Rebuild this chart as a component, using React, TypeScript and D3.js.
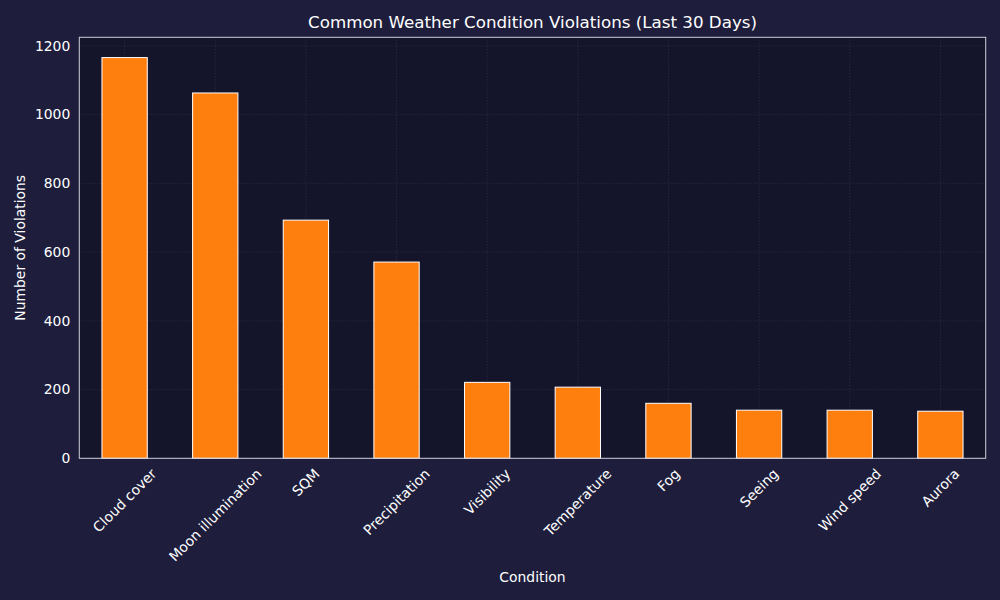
import React, { useRef, useLayoutEffect } from 'react';
import * as d3 from 'd3';

const conditions = [
  'Cloud cover',
  'Moon illumination',
  'SQM',
  'Precipitation',
  'Visibility',
  'Temperature',
  'Fog',
  'Seeing',
  'Wind speed',
  'Aurora',
];
const violations = [1166, 1063, 693, 571, 221, 207, 160, 140, 140, 137];
const yTicks = [0, 200, 400, 600, 800, 1000, 1200];

const W = 1000;
const H = 600;
const margin = { top: 37.3, right: 14.3, bottom: 141.7, left: 79.3 };

const App: React.FC = () => {
  const ref = useRef<SVGSVGElement>(null);

  useLayoutEffect(() => {
    document.body.style.margin = '0';
    const svg = d3.select(ref.current);
    svg.selectAll('*').remove();

    const iw = W - margin.left - margin.right;
    const ih = H - margin.top - margin.bottom;

    const x = d3
      .scaleBand()
      .domain(conditions)
      .range([0, iw])
      .paddingInner(0.5)
      .paddingOuter(0.25);
    const y = d3.scaleLinear().domain([0, 1225]).range([ih, 0]);

    svg.append('rect').attr('width', W).attr('height', H).attr('fill', '#1e1e3c');

    const g = svg
      .append('g')
      .attr('transform', `translate(${margin.left},${margin.top})`);

    g.append('rect').attr('width', iw).attr('height', ih).attr('fill', '#14152b');

    // grid lines
    g.selectAll('.hgrid')
      .data(yTicks)
      .enter()
      .append('line')
      .attr('x1', 0)
      .attr('x2', iw)
      .attr('y1', (d) => y(d))
      .attr('y2', (d) => y(d))
      .attr('stroke', '#44445e')
      .attr('stroke-width', 0.8)
      .attr('stroke-dasharray', '1,2')
      .attr('opacity', 0.7);

    g.selectAll('.vgrid')
      .data(conditions)
      .enter()
      .append('line')
      .attr('x1', (d) => x(d)! + x.bandwidth() / 2)
      .attr('x2', (d) => x(d)! + x.bandwidth() / 2)
      .attr('y1', 0)
      .attr('y2', ih)
      .attr('stroke', '#44445e')
      .attr('stroke-width', 0.8)
      .attr('stroke-dasharray', '1,2')
      .attr('opacity', 0.7);

    // bars
    g.selectAll('.bar')
      .data(conditions)
      .enter()
      .append('rect')
      .attr('x', (d) => x(d)!)
      .attr('y', (_, i) => y(violations[i]))
      .attr('width', x.bandwidth())
      .attr('height', (_, i) => ih - y(violations[i]))
      .attr('fill', '#ff7f0e')
      .attr('stroke', '#ffffff')
      .attr('stroke-width', 1);

    // frame
    g.append('rect')
      .attr('width', iw)
      .attr('height', ih)
      .attr('fill', 'none')
      .attr('stroke', '#cfcfdc')
      .attr('stroke-width', 1);

    const font = 'DejaVu Sans, sans-serif';
    const fs = 13.9;

    // y tick labels
    g.selectAll('.ytl')
      .data(yTicks)
      .enter()
      .append('text')
      .attr('x', -9)
      .attr('y', (d) => y(d))
      .attr('dy', '0.35em')
      .attr('text-anchor', 'end')
      .attr('fill', '#ffffff')
      .attr('font-family', font)
      .attr('font-size', fs)
      .text((d) => d);

    // x tick labels: rotated 45°, bounding box centred under the tick, top aligned
    const labelTop = ih + 8;
    g.selectAll('.xtl')
      .data(conditions)
      .enter()
      .append('text')
      .attr('text-anchor', 'middle')
      .attr('dy', '0.35em')
      .attr('fill', '#ffffff')
      .attr('font-family', font)
      .attr('font-size', fs)
      .text((d) => d)
      .each(function (d) {
        const len = (this as SVGTextElement).getComputedTextLength();
        const cy = labelTop + (len + fs) * 0.3536;
        d3.select(this).attr(
          'transform',
          `translate(${x(d)! + x.bandwidth() / 2},${cy}) rotate(-45)`
        );
      });

    svg
      .append('text')
      .attr('x', margin.left + iw / 2)
      .attr('y', 28)
      .attr('text-anchor', 'middle')
      .attr('fill', '#ffffff')
      .attr('font-family', font)
      .attr('font-size', 16.7)
      .text('Common Weather Condition Violations (Last 30 Days)');

    svg
      .append('text')
      .attr('x', margin.left + iw / 2)
      .attr('y', 582)
      .attr('text-anchor', 'middle')
      .attr('fill', '#ffffff')
      .attr('font-family', font)
      .attr('font-size', fs)
      .text('Condition');

    svg
      .append('text')
      .attr('transform', `translate(25,${margin.top + ih / 2}) rotate(-90)`)
      .attr('text-anchor', 'middle')
      .attr('fill', '#ffffff')
      .attr('font-family', font)
      .attr('font-size', fs)
      .text('Number of Violations');
  }, []);

  return <svg ref={ref} width={W} height={H} style={{ display: 'block' }} />;
};

export default App;
